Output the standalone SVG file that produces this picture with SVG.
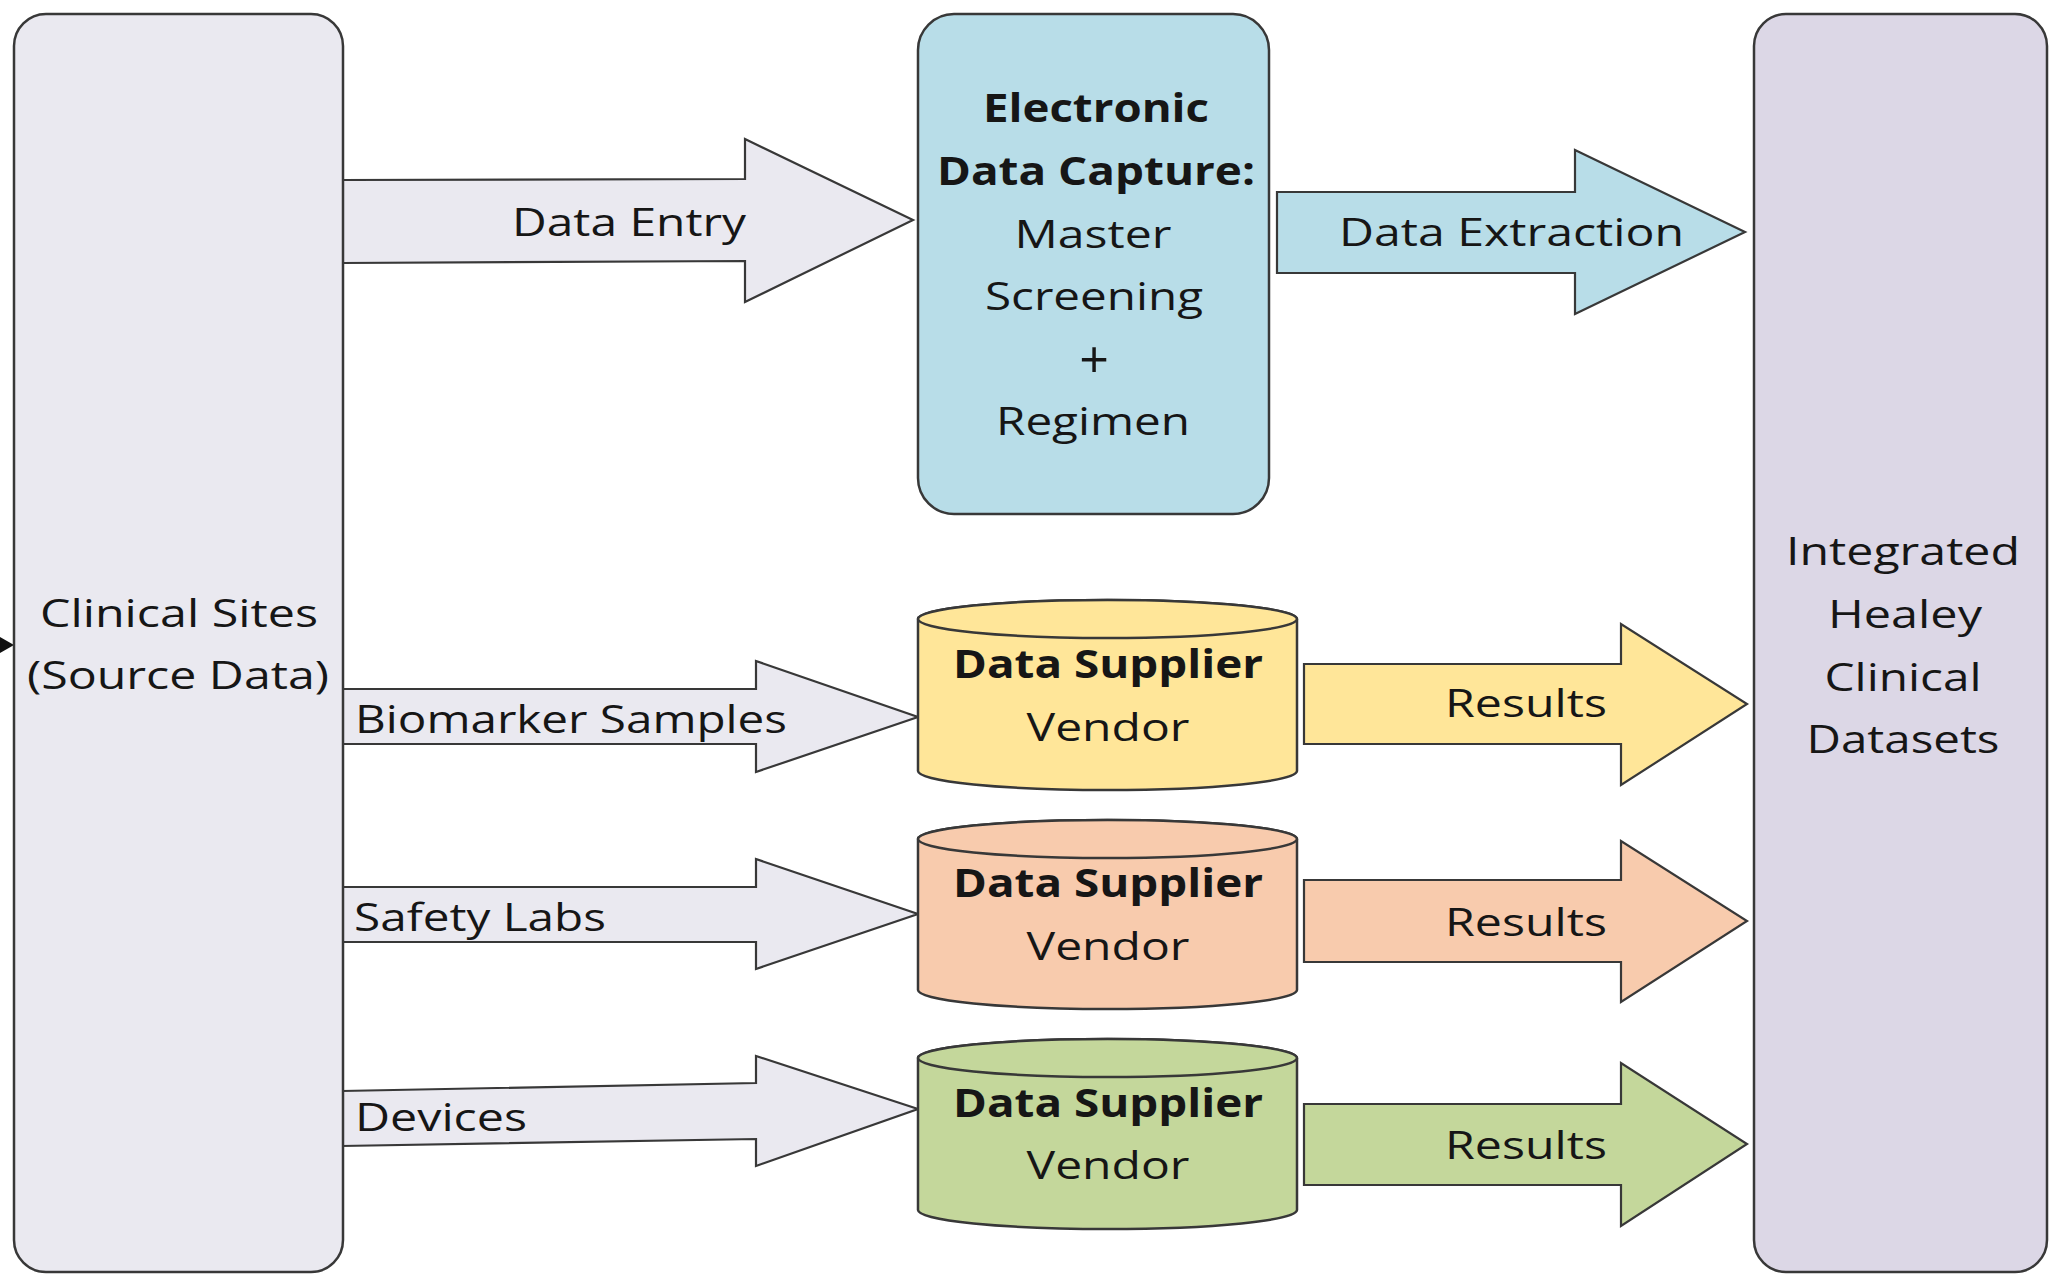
<svg xmlns="http://www.w3.org/2000/svg" width="2049" height="1274" viewBox="0 0 2049 1274">
  <style>
    .box { stroke: #383838; stroke-width: 2.5; }
    .arrow { stroke: #383838; stroke-width: 2.2; stroke-linejoin: miter; }
    .cyl { stroke: #383838; stroke-width: 2.5; }
    .gray { fill: #EAE9F0; }
    .blue { fill: #B8DDE8; }
    .lilac { fill: #DCD7E6; }
    .yellow { fill: #FFE699; }
    .orange { fill: #F8CBAD; }
    .green { fill: #C4D79B; }
    text { font-family: "Open Sans", "Liberation Sans", sans-serif; font-size: 39px; fill: #161616; }
    .b { font-weight: 700; }
    .mid { text-anchor: middle; }
    .plus { font-size: 52px; }
  </style>

  <rect width="2049" height="1274" fill="#ffffff"/>

  <!-- block arrows between the stages -->
  <g id="connectors">
    <g id="edge-data-entry">
      <polygon class="arrow gray" points="342,180 745,179 745,139 913,220 745,302 745,261 342,263"/>
      <text x="512" y="236" textLength="234" lengthAdjust="spacingAndGlyphs">Data Entry</text>
    </g>
    <g id="edge-data-extraction">
      <polygon class="arrow blue" points="1277,192 1575,192 1575,150 1745,232 1575,314 1575,273 1277,273"/>
      <text x="1339" y="246" textLength="345" lengthAdjust="spacingAndGlyphs">Data Extraction</text>
    </g>
    <g id="edge-biomarker">
      <polygon class="arrow gray" points="342,689 756,689 756,661 918,717 756,772 756,744 342,744"/>
      <text x="355" y="733" textLength="432" lengthAdjust="spacingAndGlyphs">Biomarker Samples</text>
    </g>
    <g id="edge-safety">
      <polygon class="arrow gray" points="342,887 756,887 756,859 918,914 756,969 756,942 342,942"/>
      <text x="354" y="931" textLength="252" lengthAdjust="spacingAndGlyphs">Safety Labs</text>
    </g>
    <g id="edge-devices">
      <polygon class="arrow gray" points="342,1091 756,1083 756,1056 918,1109 756,1166 756,1139 342,1146"/>
      <text x="355" y="1131" textLength="172" lengthAdjust="spacingAndGlyphs">Devices</text>
    </g>
    <g id="edge-results-biomarker">
      <polygon class="arrow yellow" points="1304,664 1621,664 1621,624 1747,704 1621,785 1621,744 1304,744"/>
      <text x="1445" y="717" textLength="162" lengthAdjust="spacingAndGlyphs">Results</text>
    </g>
    <g id="edge-results-safety">
      <polygon class="arrow orange" points="1304,880 1621,880 1621,841 1747,921 1621,1002 1621,962 1304,962"/>
      <text x="1445" y="936" textLength="162" lengthAdjust="spacingAndGlyphs">Results</text>
    </g>
    <g id="edge-results-devices">
      <polygon class="arrow green" points="1304,1104 1621,1104 1621,1063 1747,1144 1621,1226 1621,1185 1304,1185"/>
      <text x="1445" y="1159" textLength="162" lengthAdjust="spacingAndGlyphs">Results</text>
    </g>
    <!-- incoming pointer at the left edge -->
    <polygon id="edge-incoming" points="0,637 14,645 0,653" fill="#111111"/>
  </g>

  <!-- source sites -->
  <g id="node-clinical-sites">
    <rect class="box gray" x="14" y="14" width="329" height="1258" rx="32" ry="32"/>
    <text class="mid" x="179" y="627" textLength="278" lengthAdjust="spacingAndGlyphs">Clinical Sites</text>
    <text class="mid" x="178" y="689" textLength="302" lengthAdjust="spacingAndGlyphs">(Source Data)</text>
  </g>

  <!-- electronic data capture -->
  <g id="node-edc">
    <rect class="box blue" x="918" y="14" width="351" height="500" rx="36" ry="36"/>
    <text class="mid b" x="1096" y="122" textLength="226" lengthAdjust="spacingAndGlyphs">Electronic</text>
    <text class="mid b" x="1096" y="185" textLength="318" lengthAdjust="spacingAndGlyphs">Data Capture:</text>
    <text class="mid" x="1093" y="248" textLength="157" lengthAdjust="spacingAndGlyphs">Master</text>
    <text class="mid" x="1094" y="310" textLength="218" lengthAdjust="spacingAndGlyphs">Screening</text>
    <text class="mid plus" x="1094" y="378">+</text>
    <text class="mid" x="1093" y="435" textLength="194" lengthAdjust="spacingAndGlyphs">Regimen</text>
  </g>

  <!-- data supplier vendors (cylinders) -->
  <g id="node-vendor-biomarker">
    <path class="cyl yellow" d="M918,619 V771 A189.5,19 0 0 0 1297,771 V619 A189.5,19 0 0 0 918,619 Z"/>
    <ellipse class="cyl yellow" cx="1107.5" cy="619" rx="189.5" ry="19"/>
    <text class="mid b" x="1108" y="678" textLength="310" lengthAdjust="spacingAndGlyphs">Data Supplier</text>
    <text class="mid" x="1108" y="741" textLength="163" lengthAdjust="spacingAndGlyphs">Vendor</text>
  </g>
  <g id="node-vendor-safety">
    <path class="cyl orange" d="M918,839 V990 A189.5,19 0 0 0 1297,990 V839 A189.5,19 0 0 0 918,839 Z"/>
    <ellipse class="cyl orange" cx="1107.5" cy="839" rx="189.5" ry="19"/>
    <text class="mid b" x="1108" y="897" textLength="310" lengthAdjust="spacingAndGlyphs">Data Supplier</text>
    <text class="mid" x="1108" y="960" textLength="163" lengthAdjust="spacingAndGlyphs">Vendor</text>
  </g>
  <g id="node-vendor-devices">
    <path class="cyl green" d="M918,1058 V1210 A189.5,19 0 0 0 1297,1210 V1058 A189.5,19 0 0 0 918,1058 Z"/>
    <ellipse class="cyl green" cx="1107.5" cy="1058" rx="189.5" ry="19"/>
    <text class="mid b" x="1108" y="1117" textLength="310" lengthAdjust="spacingAndGlyphs">Data Supplier</text>
    <text class="mid" x="1108" y="1179" textLength="163" lengthAdjust="spacingAndGlyphs">Vendor</text>
  </g>

  <!-- integrated datasets -->
  <g id="node-integrated">
    <rect class="box lilac" x="1754" y="14" width="293" height="1258" rx="32" ry="32"/>
    <text class="mid" x="1903" y="565" textLength="234" lengthAdjust="spacingAndGlyphs">Integrated</text>
    <text class="mid" x="1905" y="628" textLength="154" lengthAdjust="spacingAndGlyphs">Healey</text>
    <text class="mid" x="1903" y="691" textLength="157" lengthAdjust="spacingAndGlyphs">Clinical</text>
    <text class="mid" x="1903" y="753" textLength="193" lengthAdjust="spacingAndGlyphs">Datasets</text>
  </g>
</svg>
